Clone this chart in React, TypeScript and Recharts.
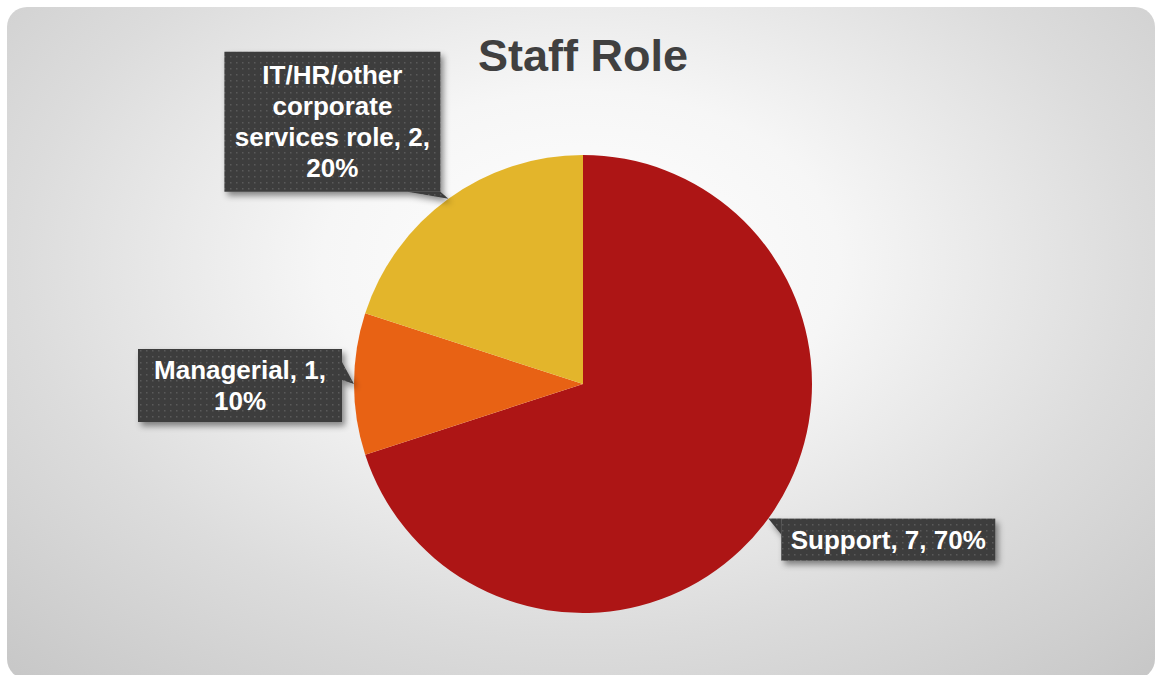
import { PieChart, Pie, Cell } from "recharts";

// Staff role breakdown (count per role)
const ROLES = ["Support", "Managerial", "IT/HR/other corporate services role"];
const COUNTS = [7, 1, 2];
const COLORS = ["#ad1515", "#e86214", "#e3b52b"];

const FONT = "'Liberation Sans', Arial, sans-serif";
const LABEL_SIZE = 26;
const LINE_H = 31;

// callout box placement relative to the slice's edge point
const CALLOUTS: Record<string, { dx: number; dy: number; w: number; h: number; wedge: number[][] }> = {
  Support: { dx: 13, dy: 0, w: 214, h: 42, wedge: [[0, 0], [0, 16]] },
  Managerial: { dx: -216, dy: -35, w: 204, h: 73, wedge: [[204, 13], [204, 31]] },
  "IT/HR/other corporate services role": {
    dx: -224, dy: -147, w: 216, h: 140, wedge: [[183, 140], [216, 140]],
  },
};

const data = ROLES.map((name, i) => ({ name, value: COUNTS[i] }));

let ctx: CanvasRenderingContext2D | null = null;
function wrap(text: string, maxW: number) {
  if (!ctx) ctx = document.createElement("canvas").getContext("2d");
  if (ctx) ctx.font = `bold ${LABEL_SIZE}px ${FONT}`;
  const words = text.split(" ");
  const lines: string[] = [];
  let cur = "";
  for (const w of words) {
    const test = cur ? cur + " " + w : w;
    const width = ctx ? ctx.measureText(test).width : test.length * 14;
    if (width > maxW && cur) {
      lines.push(cur);
      cur = w;
    } else cur = test;
  }
  if (cur) lines.push(cur);
  return lines;
}

const RADIAN = Math.PI / 180;

function Callout(props: any) {
  const { cx, cy, midAngle, outerRadius, name, value, percent, index } = props;
  const cfg = CALLOUTS[name];
  if (!cfg) return null;
  const ax = cx + outerRadius * Math.cos(-midAngle * RADIAN);
  const ay = cy + outerRadius * Math.sin(-midAngle * RADIAN);
  const bx = ax + cfg.dx;
  const by = ay + cfg.dy;
  const text = `${name}, ${value}, ${Math.round(percent * 100)}%`;
  const lines = wrap(text, cfg.w - 8);
  const top = by + cfg.h / 2 - ((lines.length - 1) * LINE_H) / 2;
  const pid = `dots-${index}`;
  const fid = `shadow-${index}`;
  const wedge = `${bx + cfg.wedge[0][0]},${by + cfg.wedge[0][1]} ${bx + cfg.wedge[1][0]},${by + cfg.wedge[1][1]} ${ax},${ay}`;
  return (
    <g>
      <defs>
        <pattern id={pid} width={6} height={6} patternUnits="userSpaceOnUse">
          <rect width={6} height={6} fill="#3d3d3d" />
          <rect x={2} y={2} width={1.5} height={1.5} fill="#5a5a5a" />
        </pattern>
        <filter id={fid} x="-20%" y="-20%" width="140%" height="150%">
          <feDropShadow dx={3} dy={4} stdDeviation={3} floodColor="#000" floodOpacity={0.45} />
        </filter>
      </defs>
      <g filter={`url(#${fid})`}>
        <polygon points={wedge} fill={`url(#${pid})`} />
        <rect x={bx} y={by} width={cfg.w} height={cfg.h} fill={`url(#${pid})`} />
      </g>
      {lines.map((l, i) => (
        <text
          key={i}
          x={bx + cfg.w / 2}
          y={top + i * LINE_H}
          textAnchor="middle"
          dominantBaseline="central"
          fill="#ffffff"
          fontFamily={FONT}
          fontWeight="bold"
          fontSize={LABEL_SIZE}
        >
          {l}
        </text>
      ))}
    </g>
  );
}

export default function App() {
  return (
    <div
      style={{
        position: "absolute",
        left: 0,
        top: 0,
        width: 1156,
        height: 675,
        overflow: "hidden",
        background: "#ffffff",
      }}
    >
      <div
        style={{
          position: "absolute",
          left: 7,
          top: 7,
          width: 1148,
          height: 672,
          borderRadius: 20,
          background:
            "radial-gradient(ellipse 75% 85% at 50% 38%, #ffffff 0%, #f6f6f6 30%, #dcdcdc 65%, #c6c6c6 100%)",
        }}
      />
      <div
        style={{
          position: "absolute",
          left: 0,
          width: 1166,
          top: 30,
          textAlign: "center",
          fontFamily: FONT,
          fontWeight: "bold",
          fontSize: 45,
          color: "#404040",
          lineHeight: "52px",
        }}
      >
        Staff Role
      </div>
      <div style={{ position: "absolute", left: 0, top: 0 }}>
        <PieChart width={1156} height={675} margin={{ top: 0, right: 0, bottom: 0, left: 0 }}>
          <Pie
            data={data}
            dataKey="value"
            nameKey="name"
            cx={583}
            cy={384}
            outerRadius={229}
            startAngle={90}
            endAngle={-270}
            stroke="none"
            label={Callout}
            labelLine={false}
            isAnimationActive={false}
          >
            {data.map((d, i) => (
              <Cell key={d.name} fill={COLORS[i]} />
            ))}
          </Pie>
        </PieChart>
      </div>
    </div>
  );
}
